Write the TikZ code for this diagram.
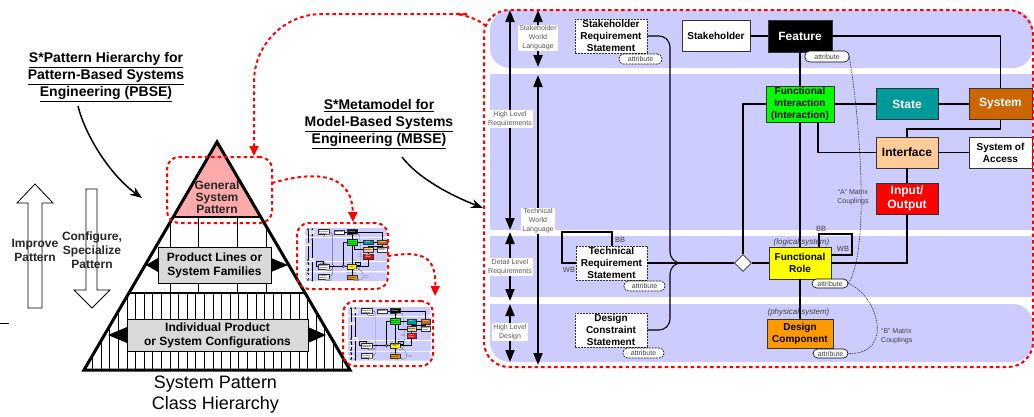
\documentclass[tikz,border=0pt]{standalone}
\usepackage{fontspec}
\setmainfont{Liberation Sans}
\usetikzlibrary{arrows.meta,shapes.geometric}
\definecolor{bandc}{RGB}{204,204,255}
\definecolor{fic}{RGB}{0,255,0}
\definecolor{statec}{RGB}{0,153,153}
\definecolor{sysc}{RGB}{204,102,0}
\definecolor{intfc}{RGB}{255,204,153}
\definecolor{ioc}{RGB}{255,0,0}
\definecolor{frc}{RGB}{255,255,0}
\definecolor{dcc}{RGB}{255,153,0}
\definecolor{pinkc}{RGB}{255,170,170}
\definecolor{grayc}{RGB}{217,217,217}
\tikzset{
  conn/.style={line width=1.1pt, draw=black},
  rc/.style={rounded corners=11pt},
  brc/.style={rounded corners=20pt},
  varr/.style={line width=2pt, arrows={Triangle[length=12pt,width=9pt]-Triangle[length=12pt,width=9pt]}},
  mbox/.style={draw=black!80, line width=0.8pt, inner sep=0pt, align=center, font=\bfseries\fontsize{10}{12}\selectfont},
  bigbox/.style={mbox, font=\bfseries\fontsize{12}{14}\selectfont},
  stmt/.style={mbox, fill=white, dash pattern=on 2pt off 1pt},
  attr/.style={draw=black, line width=0.6pt, fill=white, rounded corners=4.5pt, inner sep=0pt, font=\fontsize{7}{8}\selectfont, text=black!75},
  attrd/.style={attr, dash pattern=on 2pt off 1pt},
  lbl/.style={fill=white, inner sep=1.2pt, align=center, font=\fontsize{7}{9}\selectfont, text=black!65},
  small/.style={font=\fontsize{7.5}{9}\selectfont, text=black!75, inner sep=0pt},
  coupl/.style={font=\fontsize{7}{9}\selectfont, text=black!75, inner sep=0pt},
  ital/.style={font=\itshape\fontsize{8}{9}\selectfont, text=black!75, inner sep=0pt},
  coup/.style={draw=black!80, line width=0.6pt, dash pattern=on 1.5pt off 1pt},
  thumb/.style={conn/.style={line width=0.2pt, draw=black}, rc/.style={rounded corners=1.7pt},
    brc/.style={rounded corners=3pt},
    varr/.style={line width=0.3pt, arrows={Triangle[length=1.8pt,width=1.4pt]-Triangle[length=1.8pt,width=1.4pt]}},
    mbox/.append style={line width=0.15pt}, stmt/.append style={solid},
    attr/.append style={line width=0.15pt, rounded corners=0.7pt}, attrd/.append style={solid},
    coup/.append style={line width=0.15pt, dash pattern=on 0.4pt off 0.3pt}},
  reddash/.style={draw=red, line width=2pt, dash pattern=on 3.5pt off 3pt},
  redarr/.style={reddash, arrows={-Triangle[length=10pt,width=9pt]}},
  pbox/.style={draw=black, line width=1pt, fill=grayc, inner sep=0pt, align=center, font=\bfseries\fontsize{12}{14}\selectfont},
  hollow/.style={draw=black, line width=0.8pt, fill=white},
  title/.style={align=center, font=\bfseries\fontsize{14}{17}\selectfont},
  blkarr/.style={line width=1.5pt, arrows={-Stealth[length=12pt,width=9pt]}},
  arrtxt/.style={align=center, font=\bfseries\fontsize{12}{14}\selectfont, text=black!85},
}
\newcommand\mmdraw{%
  \fill[bandc,brc] (490,10) rectangle (1033,68);
  \fill[bandc] (490,74) rectangle (1033,230);
  \fill[bandc] (490,236) rectangle (1033,297);
  \fill[bandc,brc] (490,304) rectangle (1033,362);
  \fill[bandc] (490,304) rectangle (512,326);
  \coordinate (hlrT) at (510,10); \coordinate (hlrB) at (510,230);
  \coordinate (dlrT) at (510,232); \coordinate (dlrB) at (510,301);
  \coordinate (hldT) at (510,304); \coordinate (hldB) at (510,362);
  \coordinate (swlT) at (538,10); \coordinate (swlB) at (538,67);
  \coordinate (twlT) at (538,75); \coordinate (twlB) at (538,365);
  \draw[varr] (hlrT) -- (hlrB);
  \draw[varr] (dlrT) -- (dlrB);
  \draw[varr] (hldT) -- (hldB);
  \draw[varr] (swlT) -- (swlB);
  \draw[varr] (twlT) -- (twlB);
  \node[lbl] (hlr) at (510,119) {High Level\\Requirements};
  \node[lbl] (dlr) at (510,267) {Detail Level\\Requirements};
  \node[lbl] (hld) at (510,332) {High Level\\Design};
  \node[lbl] (swl) at (538,38) {Stakeholder\\World\\Language};
  \node[lbl] (twl) at (538,221) {Technical\\World\\Language};
  % nodes
  \node[stmt, minimum width=72pt, minimum height=34pt] (SRS) at (611,36) {Stakeholder\\Requirement\\Statement};
  \node[attrd, minimum width=43pt, minimum height=10pt] (aSRS) at (640.5,59) {attribute};
  \node[mbox, fill=white, minimum width=68pt, minimum height=31pt] (SH) at (716,36) {Stakeholder};
  \node[bigbox, fill=black, text=white, minimum width=64pt, minimum height=32pt] (Feat) at (800,36) {Feature};
  \node[attr, minimum width=44pt, minimum height=11pt] (aFeat) at (827,56.5) {attribute};
  \node[mbox, fill=fic, minimum width=68pt, minimum height=36pt] (FI) at (800,104) {Functional\\Interaction\\(Interaction)};
  \node[bigbox, fill=statec, text=white, minimum width=62pt, minimum height=31pt] (State) at (907,104) {State};
  \node[bigbox, fill=sysc, text=white, minimum width=63pt, minimum height=31pt] (Sys) at (1000.5,104) {System};
  \node[bigbox, fill=intfc, minimum width=62pt, minimum height=31pt] (Intf) at (907,152.5) {Interface};
  \node[mbox, fill=white, minimum width=63pt, minimum height=31pt] (SoA) at (1000.5,152.5) {System of\\Access};
  \node[bigbox, fill=ioc, text=white, minimum width=62pt, minimum height=31pt] (IO) at (907,198.5) {Input/\\Output};
  \node[mbox, fill=frc, minimum width=62pt, minimum height=32pt] (FR) at (800,263) {Functional\\Role};
  \node[attr, minimum width=36pt, minimum height=9pt] (aFR) at (830,283.5) {attribute};
  \node[stmt, minimum width=71pt, minimum height=34pt] (TRS) at (611.5,263) {Technical\\Requirement\\Statement};
  \node[attrd, minimum width=41pt, minimum height=10pt] (aTRS) at (644.5,286) {attribute};
  \node[stmt, minimum width=72pt, minimum height=34pt] (DCS) at (611,330) {Design\\Constraint\\Statement};
  \node[attrd, minimum width=41pt, minimum height=10pt] (aDCS) at (643.5,353) {attribute};
  \node[mbox, fill=dcc, minimum width=66pt, minimum height=29pt] (DC) at (800,333.5) {Design\\Component};
  \node[attr, minimum width=35pt, minimum height=9pt] (aDC) at (830.5,353.5) {attribute};
  \node[draw=black!80, line width=0.8pt, fill=white, diamond, minimum size=17pt, inner sep=0pt] (dia) at (743,263) {};
  % connectors
  \draw[conn] (SH.east) -- (Feat.west);
  \draw[conn] (Feat.east) -| (Sys.north);
  \draw[conn] (Feat.south) -- (FI.north);
  \draw[conn] (FI.south) -- (FR.north);
  \draw[conn] (FR.south) -- (DC.north);
  \draw[conn] (FI.east) -- (State.west);
  \draw[conn] (State.east) -- (Sys.west);
  \coordinate (sysK) at (1000.5,129);
  \draw[conn] (Sys.south) -- (sysK) -| (Intf.north);
  \coordinate (fiK) at (818,122);
  \draw[conn] (fiK) |- (Intf.west);
  \draw[conn] (Intf.east) -- (SoA.west);
  \draw[conn] (Intf.south) -- (IO.north);
  \draw[conn] (IO.south) |- (FR.east);
  \draw[conn] (dia.east) -- (FR.west);
  \draw[conn] (dia.north) |- (FI.west);
  \coordinate (bus) at (670,263);
  \draw[conn, rc] (SRS.east) -| (bus) -- (dia.west);
  \draw[conn, rc] (DCS.east) -| (bus) -- (dia.west);
  \draw[conn] (TRS.east) -- (dia.west);
  \coordinate (trsA) at (612,246); \coordinate (trsB) at (612,232);
  \coordinate (trsC) at (562,232); \coordinate (trsD) at (562,263);
  \draw[conn] (trsA) -- (trsB) -- (trsC) -- (trsD) -- (TRS.west);
  \node[small] (bbA) at (620,240) {BB};
  \node[small] (wbA) at (569,270) {WB};
  \coordinate (frA) at (819,247); \coordinate (frB) at (819,234);
  \coordinate (frC) at (852,234); \coordinate (frD) at (852,255);
  \draw[conn] (frA) -- (frB) -- (frC) -- (frD) -- (FR.east |- frD);
  \node[small] (bbB) at (821,229) {BB};
  \node[small] (wbB) at (843,249) {WB};
  \node[ital] (logi) at (801.5,242) {(logical system)};
  \node[ital] (phys) at (798.5,312) {(physical system)};
  \draw[coup] (aFeat.east) .. controls (860,120) and (870,250) .. (aFR.east);
  \draw[coup] (aFR.east) .. controls (878,295) and (895,355) .. (aDC.east);
  \node[coupl, align=center] (amx) at (853,197.5) {“A” Matrix\\Couplings};
  \node[coupl, align=left, anchor=west] (bmx) at (881,336.5) {“B” Matrix\\Couplings};
}
\begin{document}
\begin{tikzpicture}[x=1pt, y=-1pt]
\useasboundingbox (0,0) rectangle (1034,416);
% ---------- left: titles ----------
\node[title] (pbse) at (106,77) {\underline{S*Pattern Hierarchy for}\\\underline{Pattern-Based Systems}\\\underline{Engineering (PBSE)}};
\coordinate (pbseS) at (78,106); \coordinate (pbseE) at (142,198);
\draw[blkarr] (pbseS) .. controls (85,135) and (110,175) .. (pbseE);
\node[title] (mbse) at (379,124) {\underline{S*Metamodel for}\\\underline{Model-Based Systems}\\\underline{Engineering (MBSE)}};
\coordinate (mbseS) at (402,157); \coordinate (mbseE) at (483,208);
\draw[blkarr] (mbseS) .. controls (418,178) and (450,195) .. (mbseE);
% ---------- hollow arrows ----------
\draw[hollow] (35,184) -- (53,203) -- (42,203) -- (42,308) -- (28,308) -- (28,203) -- (17,203) -- cycle;
\draw[hollow] (86,189) -- (97,189) -- (97,290) -- (110,290) -- (92,308) -- (74,290) -- (86,290) -- cycle;
\node[arrtxt] (imp) at (35,250.5) {Improve\\Pattern};
\node[arrtxt] (conf) at (92,250) {Configure,\\Specialize\\Pattern};
\coordinate (stA) at (0,323); \coordinate (stB) at (9,323);
\draw[line width=1pt] (stA) -- (stB);
% ---------- pyramid ----------
\coordinate (apex) at (217,142); \coordinate (bl) at (84,370); \coordinate (br) at (350,370);
\fill[white] (apex) -- (bl) -- (br) -- cycle;
\begin{scope}
  \clip (apex) -- (bl) -- (br) -- cycle;
  \foreach \x in {170,198,237,266} \draw[line width=1pt] (\x,217) -- (\x,293);
  \foreach \i in {0,...,31} \draw[line width=0.9pt] (84+\i*8.6,293) -- (84+\i*8.6,370);
\end{scope}
\fill[pinkc] (apex) -- (173.3,217) -- (260.7,217) -- cycle;
\draw[line width=1.5pt] (173.3,217) -- (260.7,217);
\draw[line width=1.5pt] (128.9,293) -- (305.1,293);
\draw[line width=3pt] (apex) -- (bl) -- (br) -- cycle;
\node[arrtxt, font=\bfseries\fontsize{12}{12}\selectfont, text=black!85] (gsp) at (217,197.5) {General\\System\\Pattern};
\node[pbox, minimum width=113pt, minimum height=36pt] (plsf) at (214.5,265) {Product Lines or\\System Families};
\node[pbox, minimum width=181pt, minimum height=32pt] (ipsc) at (217.5,335) {Individual Product\\or System Configurations};
\fill (158,258) -- (146,265) -- (158,272) -- cycle;
\fill (271,258) -- (288,265) -- (271,272) -- cycle;
\fill (127,327) -- (108,335) -- (127,343) -- cycle;
\fill (308,327) -- (326,335) -- (308,343) -- cycle;
\node[font=\fontsize{18}{21}\selectfont, align=center] (spch) at (215.5,394.5) {System Pattern\\Class Hierarchy};
% ---------- main metamodel panel ----------
\mmdraw
\node[reddash, rounded corners=25pt, minimum width=549pt, minimum height=357pt, inner sep=0pt] (panel) at (758.5,188.5) {};
% ---------- thumbnails ----------
\begin{scope}[shift={(305,228)}, scale=0.151, shift={(-490,-10)}, transform shape, name prefix=tA-, thumb]
  \mmdraw
\end{scope}
\begin{scope}[shift={(348,307)}, scale=0.152, shift={(-490,-10)}, transform shape, name prefix=tB-, thumb]
  \mmdraw
\end{scope}
\node[reddash, rounded corners=12pt, minimum width=91pt, minimum height=66pt, inner sep=0pt] (thA) at (342.5,256) {};
\node[reddash, rounded corners=12pt, minimum width=90pt, minimum height=65pt, inner sep=0pt] (thB) at (388,333.5) {};
\node[reddash, rounded corners=12pt, minimum width=105pt, minimum height=66pt, inner sep=0pt] (gbox) at (219.5,190) {};
% ---------- red dashed arrows ----------
\coordinate (pStart) at (486,26); \coordinate (gTip) at (254,156);
\draw[redarr, rounded corners=68pt] (pStart) .. controls (470,12) and (440,14) .. (400,14) -- (254,14) -- (gTip);
\coordinate (gR) at (272,183); \coordinate (thAT) at (353,222);
\draw[redarr] (gR) .. controls (310,172) and (352,170) .. (thAT);
\coordinate (thAR) at (388,256); \coordinate (thBT) at (435,296);
\draw[redarr] (thAR) .. controls (425,250) and (436,258) .. (thBT);
\end{tikzpicture}
\end{document}
